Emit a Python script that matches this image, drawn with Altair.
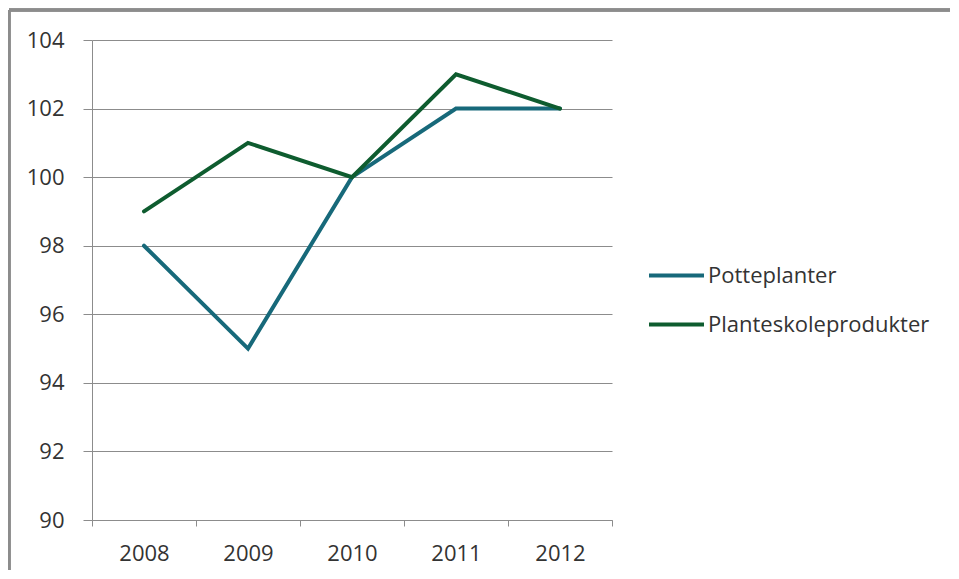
import altair as alt
import pandas as pd

years = [2008, 2009, 2010, 2011, 2012]
potteplanter = [98, 95, 100, 102, 102]
planteskoleprodukter = [99, 101, 100, 103, 102]
series_names = ["Potteplanter", "Planteskoleprodukter"]
series_colors = ["#17697A", "#0E5C2F"]
y_ticks = [90, 92, 94, 96, 98, 100, 102, 104]

rows = []
for name, vals in zip(series_names, [potteplanter, planteskoleprodukter]):
    for i, (yr, v) in enumerate(zip(years, vals)):
        rows.append({"year": yr, "value": v, "series": name, "order": i})
df = pd.DataFrame(rows)

x_vals = []
for yr in years:
    x_vals += [yr - 0.5, yr]
x_vals.append(years[-1] + 0.5)

FONT = "Open Sans"
GRAY = "#8c8c8c"
TEXT = "#333333"

lines = alt.Chart(df).mark_line(strokeWidth=4, strokeCap="round", strokeJoin="miter").encode(
    x=alt.X("year:Q",
            scale=alt.Scale(domain=[years[0] - 0.5, years[-1] + 0.5], nice=False, zero=False),
            axis=alt.Axis(values=x_vals, title=None, grid=False,
                          labelExpr="datum.value % 1 === 0 ? '' + datum.value : ''",
                          tickColor={"condition": {"test": "datum.value % 1 === 0", "value": "transparent"}, "value": GRAY},
                          tickSize=6, domainColor=GRAY, labelPadding=17,
                          labelFontSize=22, labelColor=TEXT, labelFont=FONT)),
    y=alt.Y("value:Q",
            scale=alt.Scale(domain=[90, 104], nice=False, zero=False),
            axis=alt.Axis(values=y_ticks, title=None, grid=True, gridColor=GRAY,
                          tickColor=GRAY, tickSize=9, domainColor=GRAY, labelPadding=19,
                          labelFontSize=22, labelColor=TEXT, labelFont=FONT)),
    color=alt.Color("series:N",
                    scale=alt.Scale(domain=series_names, range=series_colors),
                    legend=alt.Legend(title=None, orient="none", legendX=555, legendY=206,
                                      symbolType="stroke", symbolSize=3025, symbolStrokeWidth=4,
                                      labelFontSize=22, labelFont=FONT, labelColor=TEXT,
                                      labelLimit=400, labelOffset=2, rowPadding=8)),
    order="order:Q",
)

border_top = alt.Chart(df).mark_rule(color=GRAY, strokeWidth=2.5).encode(
    x=alt.value(-83), x2=alt.value(860), y=alt.value(-30))
border_left = alt.Chart(df).mark_rule(color=GRAY, strokeWidth=2.5).encode(
    x=alt.value(-83), y=alt.value(-30), y2=alt.value(560))

chart = alt.layer(border_top, border_left, lines).properties(
    width=520, height=480,
    autosize=alt.AutoSizeParams(type="none"),
    padding={"left": 84, "top": 32, "right": 338, "bottom": 50},
).configure_view(stroke=None)

chart.save("out.html", embed_options={"renderer": "svg", "actions": False})
